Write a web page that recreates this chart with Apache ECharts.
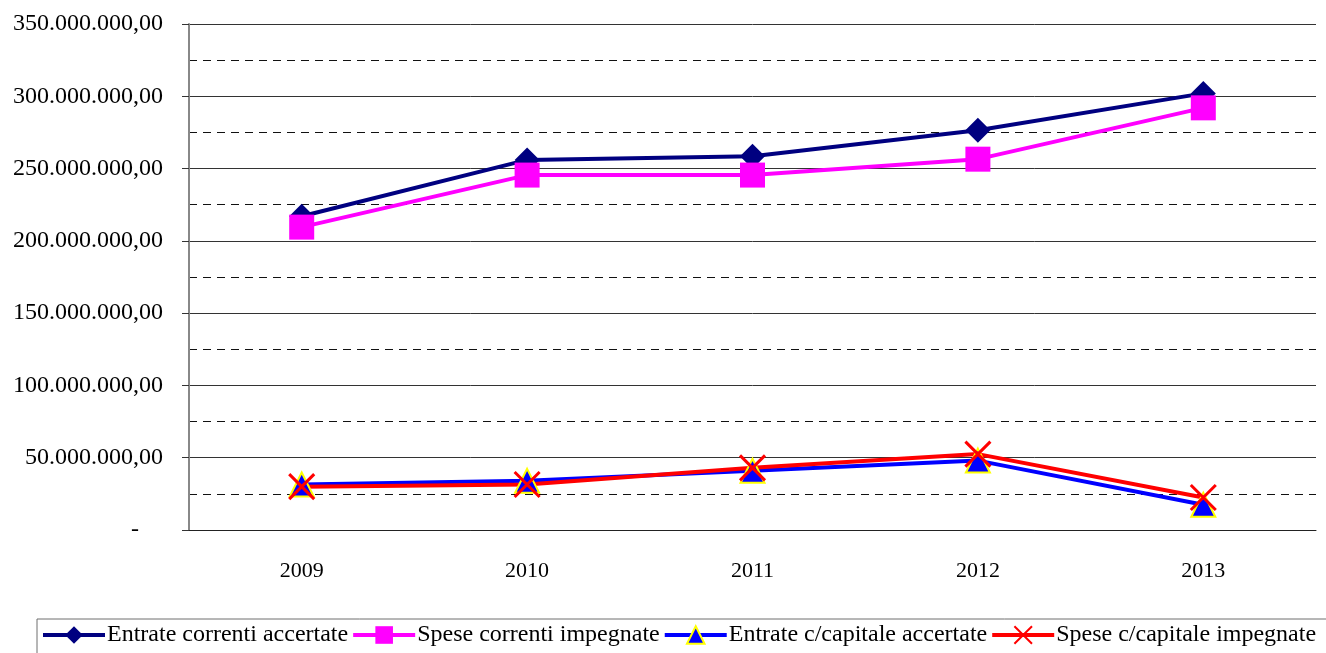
<!DOCTYPE html>
<html>
<head>
<meta charset="utf-8">
<script src="https://cdn.jsdelivr.net/npm/echarts@6/dist/echarts.min.js"></script>
<style>html,body{margin:0;padding:0;background:#fff}#c{width:1326px;height:653px}</style>
</head>
<body>
<div id="c"></div>
<script>
var years = ['2009', '2010', '2011', '2012', '2013'];
var entrateCorrenti = [217000000, 256000000, 258500000, 276500000, 302000000];
var speseCorrenti = [209500000, 245500000, 245500000, 256500000, 292000000];
var entrateCapitale = [31500000, 34000000, 41000000, 48000000, 17500000];
var speseCapitale = [30000000, 31500000, 43000000, 52500000, 22500000];
var seriesNames = ['Entrate correnti accertate', 'Spese correnti impegnate', 'Entrate c/capitale accertate', 'Spese c/capitale impegnate'];

function fmt(v) {
  if (v === 0) return '-\u2007\u2007';
  var s = String(Math.round(v));
  return s.replace(/\B(?=(\d{3})+(?!\d))/g, '.') + ',00';
}
var FONT = 'Liberation Serif';
var chart = echarts.init(document.getElementById('c'), null, {renderer: 'canvas'});
var crossPath = 'path://M0,0L10,10M10,0L0,10';
var lineColors = ['#000080', '#FF00FF', '#0000FF', '#FF0000'];
chart.setOption({
  animation: false,
  textStyle: {fontFamily: FONT},
  grid: {left: 189, right: 10, top: 24, bottom: 123, containLabel: false},
  legend: {
    left: 37, top: 619, width: 1400,
    padding: [4, 16, 8, 4],
    borderColor: '#6e6e6e', borderWidth: 1,
    itemWidth: 62, itemHeight: 22, itemGap: 3,
    textStyle: {fontFamily: FONT, fontSize: 24, color: '#000', padding: [0, 0, 0, -3]},
    data: seriesNames.map(function (n, i) {
      return {name: n, lineStyle: {width: 4, color: lineColors[i]}};
    })
  },
  xAxis: {
    type: 'category', data: years, boundaryGap: true,
    axisLine: {lineStyle: {color: '#222', width: 1}},
    axisTick: {show: false},
    axisLabel: {fontFamily: FONT, fontSize: 22, color: '#000', margin: 30}
  },
  yAxis: {
    type: 'value', min: 0, max: 350000000, interval: 50000000,
    axisLine: {show: true, lineStyle: {color: '#888', width: 2}},
    axisTick: {show: true, inside: false, length: 7, lineStyle: {color: '#333'}},
    axisLabel: {fontFamily: FONT, fontSize: 24, color: '#000', margin: 26, formatter: fmt},
    splitLine: {show: true, lineStyle: {color: '#333', width: 1}},
    minorTick: {show: false, splitNumber: 2},
    minorSplitLine: {show: true, lineStyle: {color: '#111', width: 1, type: [8, 6]}}
  },
  series: [
    {
      name: seriesNames[0], type: 'line', data: entrateCorrenti,
      symbol: 'diamond', symbolSize: 25,
      lineStyle: {color: lineColors[0], width: 4},
      itemStyle: {color: '#000080'}
    },
    {
      name: seriesNames[1], type: 'line', data: speseCorrenti,
      symbol: 'rect', symbolSize: 25,
      lineStyle: {color: lineColors[1], width: 4},
      itemStyle: {color: '#FF00FF'}
    },
    {
      name: seriesNames[2], type: 'line', data: entrateCapitale,
      symbol: 'triangle', symbolSize: 24,
      lineStyle: {color: lineColors[2], width: 4},
      itemStyle: {color: '#0000FF', borderColor: '#FFFF00', borderWidth: 2}
    },
    {
      name: seriesNames[3], type: 'line', data: speseCapitale,
      symbol: crossPath, symbolSize: 25,
      lineStyle: {color: lineColors[3], width: 4},
      itemStyle: {color: 'rgba(0,0,0,0)', borderColor: '#FF0000', borderWidth: 3}
    }
  ]
});
</script>
</body>
</html>
